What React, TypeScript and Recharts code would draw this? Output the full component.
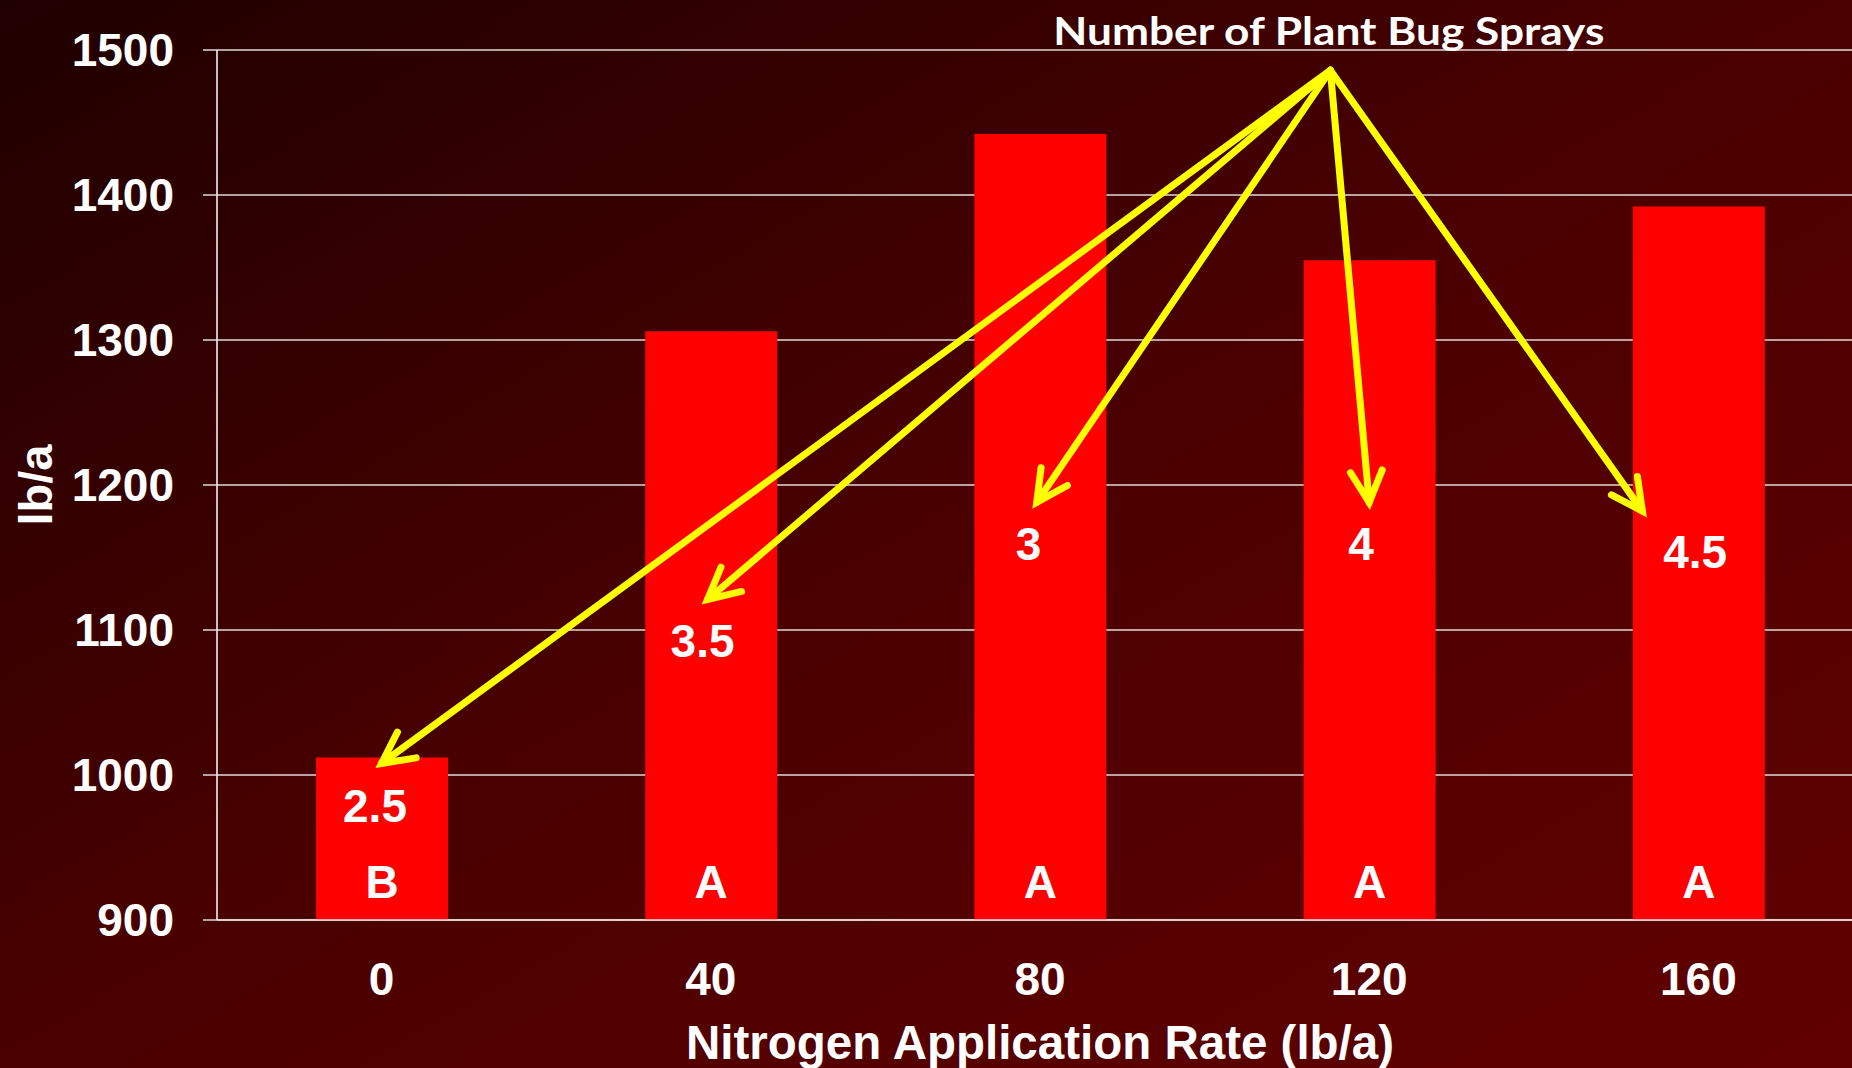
import React from 'react';
import {
  BarChart, Bar, XAxis, YAxis, CartesianGrid, LabelList, ReferenceLine, ReferenceDot,
} from 'recharts';

// ---- data ----
const categories = ['0', '40', '80', '120', '160'];
const yields = [1012, 1306, 1442, 1355, 1392];
const sprays = ['2.5', '3.5', '3', '4', '4.5'];
const letters = ['B', 'A', 'A', 'A', 'A'];
const yTicks = [900, 1000, 1100, 1200, 1300, 1400, 1500];

const titleText = 'Number of Plant Bug Sprays';
const xTitle = 'Nitrogen Application Rate (lb/a)';
const yTitle = 'lb/a';

// annotation anchors in data units (category index, lb/a)
const apex = { x: 2.882, y: 1486 };
const arrowTipX = [0.0, 0.99, 1.99, 3.0, 3.83];
const arrowTipY = [1008, 1121, 1188, 1188, 1182];
const sprayLabelX = [-0.02, 0.975, 1.965, 2.975, 3.99];
const sprayLabelY = [979, 1093, 1160, 1160, 1154];

const data = categories.map((c, i) => ({ rate: c, idx: i, yield: yields[i], letter: letters[i] }));

const FONT = '"Liberation Sans", Arial, sans-serif';
const YELLOW = '#FFFF00';

const ArrowShape = (p: any) => {
  const { x1, y1, x2, y2 } = p;
  const dx = x1 - x2;
  const dy = y1 - y2;
  const L = Math.hypot(dx, dy) || 1;
  const ux = dx / L;
  const uy = dy / L;
  const len = 35;
  const a = (27 * Math.PI) / 180;
  const rot = (ang: number) => [
    x2 + len * (ux * Math.cos(ang) - uy * Math.sin(ang)),
    y2 + len * (ux * Math.sin(ang) + uy * Math.cos(ang)),
  ];
  const [ax, ay] = rot(a);
  const [bx, by] = rot(-a);
  return (
    <g>
      <line x1={x1} y1={y1} x2={x2} y2={y2} stroke={YELLOW} strokeWidth={7} strokeLinecap="round" />
      <polyline
        points={`${ax},${ay} ${x2},${y2} ${bx},${by}`}
        fill="none"
        stroke={YELLOW}
        strokeWidth={7}
        strokeLinecap="round"
        strokeLinejoin="miter"
      />
    </g>
  );
};

const YLabel = (props: any) => {
  const vb = props.viewBox || {};
  const cx = 35;
  const cy = vb.y + vb.height / 2;
  return (
    <text
      x={cx}
      y={cy}
      transform={`rotate(-90, ${cx}, ${cy})`}
      textAnchor="middle"
      dy="0.36em"
      fill="#fff"
      fontSize={47}
      fontWeight={700}
      fontFamily={FONT}
    >
      {yTitle}
    </text>
  );
};

const XLabel = (props: any) => {
  const vb = props.viewBox || {};
  const cx = vb.x + vb.width / 2;
  return (
    <text
      x={cx}
      y={1059}
      textAnchor="middle"
      fill="#fff"
      fontSize={47.5}
      fontWeight={700}
      fontFamily={FONT}
    >
      {xTitle}
    </text>
  );
};

export default function App() {
  return (
    <div
      style={{
        position: 'fixed',
        left: 0,
        top: 0,
        width: 1852,
        height: 1068,
        overflow: 'hidden',
        background: 'linear-gradient(to bottom right, #1f0000 0%, #4a0000 50%, #610000 100%)',
      }}
    >
      <BarChart
        width={1880}
        height={1068}
        data={data}
        margin={{ top: 50, right: 17, bottom: 0, left: 0 }}
        barCategoryGap="30%"
      >
        <CartesianGrid vertical={false} stroke="#e2d8d8" strokeWidth={1.5} />
        <XAxis
          dataKey="rate"
          height={148}
          axisLine={{ stroke: '#e8e0e0', strokeWidth: 1.5 }}
          tickLine={false}
          tickSize={0}
          tickMargin={42}
          interval={0}
          tick={{ fill: '#fff', fontSize: 46, fontWeight: 700, fontFamily: FONT }}
          label={{ content: XLabel }}
        />
        <XAxis xAxisId="n" dataKey="idx" type="number" domain={[-0.5, 4.5]} allowDataOverflow hide />
        <YAxis
          domain={[900, 1500]}
          ticks={yTicks}
          interval={0}
          allowDataOverflow
          width={217}
          axisLine={{ stroke: '#ffffff', strokeWidth: 1.5 }}
          tickLine={{ stroke: '#e2d8d8', strokeWidth: 1.5 }}
          tickSize={14}
          tickMargin={29}
          tick={{ fill: '#fff', fontSize: 46, fontWeight: 700, fontFamily: FONT }}
          label={{ content: YLabel }}
        />
        <Bar dataKey="yield" fill="#FF0000" barSize={132} isAnimationActive={false}>
          <LabelList
            dataKey="letter"
            position="insideBottom"
            offset={22}
            fill="#fff"
            fontSize={46}
            fontWeight={700}
            fontFamily={FONT}
          />
        </Bar>
        {sprays.map((s, i) => (
          <ReferenceDot
            key={'s' + i}
            xAxisId="n"
            x={sprayLabelX[i]}
            y={sprayLabelY[i]}
            r={0}
            ifOverflow="visible"
            shape={(p: any) => (
              <text
                x={p.cx}
                y={p.cy}
                dy="0.36em"
                textAnchor="middle"
                fill="#fff"
                fontSize={46}
                fontWeight={700}
                fontFamily={FONT}
              >
                {s}
              </text>
            )}
          />
        ))}
        {arrowTipX.map((tx, i) => (
          <ReferenceLine
            key={'a' + i}
            xAxisId="n"
            ifOverflow="visible"
            segment={[{ x: apex.x, y: apex.y }, { x: tx, y: arrowTipY[i] }]}
            shape={ArrowShape}
          />
        ))}
        <ReferenceDot
          xAxisId="n"
          x={apex.x}
          y={apex.y}
          r={0}
          ifOverflow="visible"
          shape={(p: any) => (
            <text
              x={p.cx - 1.5}
              y={p.cy - 25.7}
              textAnchor="middle"
              fill="#fff"
              fontSize={39}
              fontWeight={700}
              fontFamily="Lato, 'Open Sans', sans-serif"
              textLength={551}
              lengthAdjust="spacingAndGlyphs"
            >
              {titleText}
            </text>
          )}
        />
      </BarChart>
    </div>
  );
}
